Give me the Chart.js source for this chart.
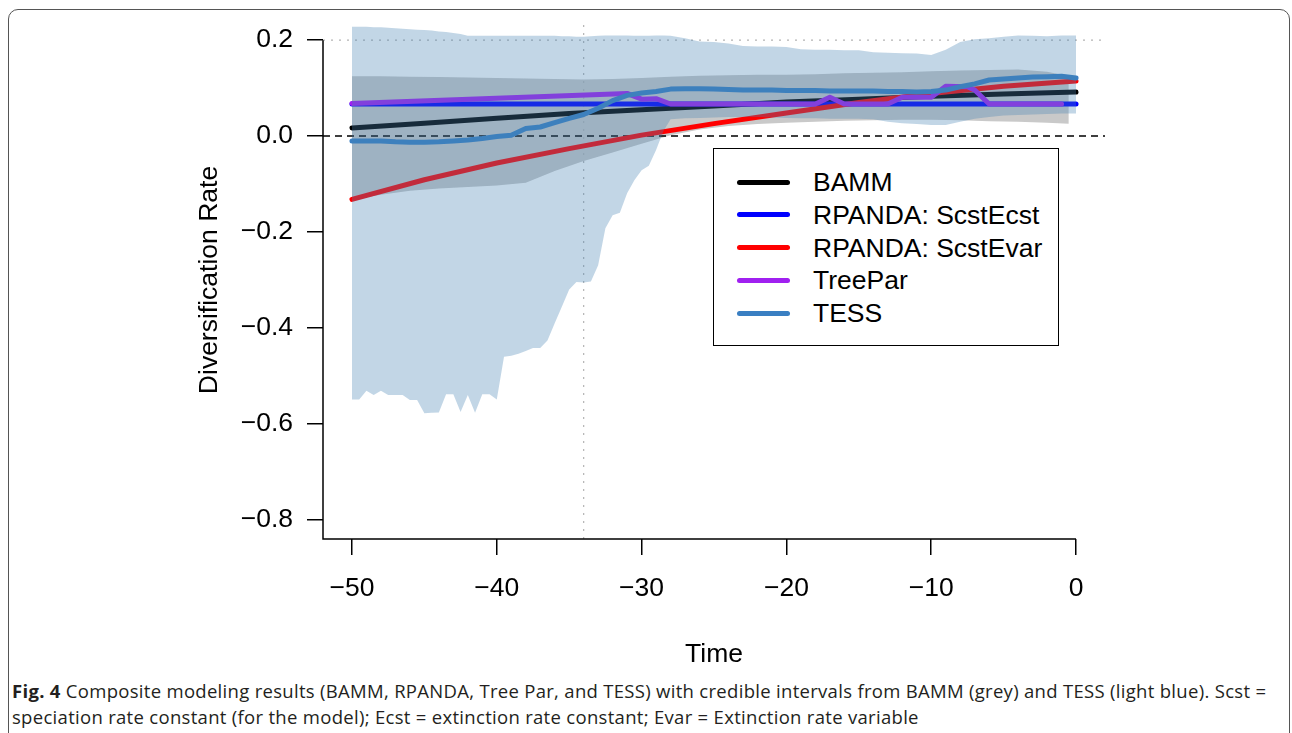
<!DOCTYPE html>
<html>
<head>
<meta charset="utf-8">
<title>Fig. 4 Diversification Rate</title>
<script src="https://cdn.jsdelivr.net/npm/chart.js@4.4.0/dist/chart.umd.min.js"></script>
<style>
  html, body { margin: 0; padding: 0; background: #fff; }
  body { width: 1292px; height: 733px; position: relative; overflow: hidden; }
  #frame {
    position: absolute; left: 8px; top: 9px; width: 1282px; height: 780px;
    border: 1.5px solid #555; border-radius: 10px; box-sizing: border-box;
  }
  #chart { position: absolute; left: 0; top: 0; }
  #legend {
    position: absolute; left: 713px; top: 148px; width: 346px; height: 198px;
    border: 1.5px solid #000; box-sizing: border-box; background: #fff;
  }
  .entry { position: absolute; left: 0; height: 0; }
  .swatch { position: absolute; left: 23px; width: 53px; height: 5px; margin-top: -2.5px; border-radius: 3px; }
  .label {
    position: absolute; left: 99px; top: -16px; white-space: nowrap;
    font: 26.5px "Liberation Sans", Arial, sans-serif; line-height: 32px; color: #000;
  }
  #caption {
    position: absolute; left: 12px; top: 678px; white-space: nowrap;
    font: 18.5px "Open Sans", sans-serif; letter-spacing: 0.3px; line-height: 26px; color: #231f20;
  }
</style>
</head>
<body>
<div id="frame"></div>
<canvas id="chart" width="1292" height="671"></canvas>
<div id="legend"></div>
<div id="caption"><b>Fig. 4</b> Composite modeling results (BAMM, RPANDA, Tree Par, and TESS) with credible intervals from BAMM (grey) and TESS (light blue). Scst =<br>speciation rate constant (for the model); Ecst = extinction rate constant; Evar = Extinction rate variable</div>
<script>
// axis ticks
const xTickVals = [-50, -40, -30, -20, -10, 0];
const xTickLabels = ['\u221250', '\u221240', '\u221230', '\u221220', '\u221210', '0'];
const yTickVals = [-0.8, -0.6, -0.4, -0.2, 0, 0.2];
const yTickLabels = ['\u22120.8', '\u22120.6', '\u22120.4', '\u22120.2', '0.0', '0.2'];

// reference lines
const refZero = 0;
const refTop = 0.2;
const refTime = -34;

// model estimates (time in Myr)
const time5 = [-50, -45, -40, -35, -30, -25, -20, -15, -10, -5, 0];
const bammRate = [0.017, 0.027, 0.037, 0.047, 0.055, 0.063, 0.071, 0.077, 0.083, 0.088, 0.092];
const ecstRate = [0.067, 0.067, 0.067, 0.067, 0.067, 0.067, 0.067, 0.067, 0.067, 0.067, 0.067];
const evarRate = [-0.132, -0.091, -0.056, -0.026, 0.002, 0.026, 0.048, 0.070, 0.089, 0.104, 0.115];

const treeParTime = [-50, -31, -30, -29, -28, -18, -17, -16, -13, -12, -10, -9, -7.5, -7, -6, -1];
const treeParRate = [0.068, 0.089, 0.077, 0.078, 0.067, 0.067, 0.081, 0.067, 0.067, 0.081, 0.081, 0.104, 0.103, 0.096, 0.067, 0.067];

const tessTime = [-50, -49, -48, -47, -46, -45, -44, -43, -42, -41, -40, -39, -38, -37, -36, -35, -34, -33, -32, -31, -30,
  -29, -28, -27, -26, -25, -24, -23, -22, -21, -20, -19, -18, -17, -16, -15, -14, -13, -12, -11, -10,
  -9, -8, -7, -6, -5, -4, -3, -2, -1, 0];
const tessRate = [-0.010, -0.010, -0.010, -0.012, -0.013, -0.013, -0.012, -0.010, -0.008, -0.005, -0.001, 0.002, 0.016, 0.019, 0.028, 0.037, 0.045, 0.058, 0.074, 0.085, 0.090,
  0.093, 0.098, 0.099, 0.099, 0.098, 0.097, 0.096, 0.096, 0.096, 0.095, 0.095, 0.095, 0.094, 0.094, 0.094, 0.094, 0.093, 0.093, 0.092, 0.093,
  0.096, 0.103, 0.109, 0.117, 0.119, 0.121, 0.123, 0.124, 0.125, 0.121];

// credible intervals
const bammBandTime = [-50, -48, -46, -44, -42, -40, -38, -36, -34, -32, -30, -28, -26, -24, -22, -20, -18, -16, -14, -12, -10, -8, -6, -4, -2, -0.5];
const bammUpper = [0.125, 0.125, 0.124, 0.123, 0.122, 0.121, 0.120, 0.119, 0.118, 0.119, 0.121, 0.124, 0.126, 0.127, 0.128, 0.128, 0.129, 0.131, 0.132, 0.133, 0.135, 0.137, 0.138, 0.139, 0.134, 0.125];
const bammLower = [-0.132, -0.122, -0.114, -0.109, -0.106, -0.103, -0.097, -0.073, -0.052, -0.034, -0.016, 0.002, 0.014, 0.021, 0.025, 0.028, 0.030, 0.032, 0.033, 0.034, 0.034, 0.033, 0.031, 0.030, 0.028, 0.026];

const tessBandTime = [-50, -49.5, -49, -48.5, -48, -47.5, -47, -46.5, -46, -45.5, -45, -44.5, -44, -43.5, -43, -42.5, -42, -41.5, -41, -40.5,
  -40, -39.5, -39, -38.5, -38, -37.5, -37, -36.5, -36, -35.5, -35, -34.5, -34, -33.5, -33, -32.5, -32, -31.5, -31, -30.5,
  -30, -29.5, -29, -28.5, -28, -27, -26, -25, -24, -23, -22, -21, -20, -19, -18, -17, -16, -15, -14, -13,
  -12, -11, -10, -9, -8, -7, -6, -5, -4, -3, -2, -1, 0];
const tessUpper = [0.228, 0.228, 0.228, 0.227, 0.227, 0.226, 0.225, 0.224, 0.223, 0.222, 0.221, 0.220, 0.218, 0.217, 0.215, 0.213, 0.209, 0.209, 0.209, 0.209,
  0.209, 0.209, 0.209, 0.209, 0.209, 0.209, 0.209, 0.209, 0.209, 0.208, 0.208, 0.207, 0.207, 0.208, 0.209, 0.210, 0.210, 0.210, 0.210, 0.209,
  0.209, 0.209, 0.210, 0.210, 0.209, 0.204, 0.197, 0.196, 0.193, 0.188, 0.187, 0.187, 0.186, 0.181, 0.180, 0.180, 0.179, 0.179, 0.175, 0.174,
  0.173, 0.172, 0.169, 0.180, 0.196, 0.202, 0.204, 0.207, 0.210, 0.209, 0.208, 0.210, 0.210];
const tessLower = [-0.549, -0.549, -0.531, -0.540, -0.531, -0.540, -0.540, -0.540, -0.550, -0.550, -0.578, -0.577, -0.576, -0.538, -0.538, -0.575, -0.540, -0.577, -0.538, -0.538,
  -0.549, -0.460, -0.458, -0.454, -0.448, -0.442, -0.442, -0.426, -0.390, -0.355, -0.320, -0.304, -0.305, -0.303, -0.269, -0.192, -0.165, -0.160, -0.119, -0.092,
  -0.071, -0.062, -0.029, 0.010, 0.035, 0.037, 0.038, 0.039, 0.040, 0.040, 0.040, 0.039, 0.038, 0.037, 0.037, 0.036, 0.036, 0.036, 0.035, 0.030,
  0.027, 0.025, 0.023, 0.023, 0.030, 0.036, 0.040, 0.043, 0.044, 0.045, 0.046, 0.047, 0.047];

const seriesNames = ['BAMM', 'RPANDA: ScstEcst', 'RPANDA: ScstEvar', 'TreePar', 'TESS'];
const seriesColors = ['#000000', '#0000ff', '#ff0000', '#a020f0', '#3a7fc2'];

const xMin = -52, xMax = 2, yMin = -0.84, yMax = 0.24;

function pts(xs, ys) {
  return xs.map((x, i) => ({ x: x, y: ys[i] }));
}

function seriesLine(i, xs, ys, order) {
  return {
    label: seriesNames[i], data: pts(xs, ys), borderColor: seriesColors[i],
    borderWidth: 5, borderCapStyle: 'round', borderJoinStyle: 'round',
    pointRadius: 0, fill: false, order: order
  };
}

function edge(label, xs, ys, fill, color, order) {
  return {
    label: label, data: pts(xs, ys), borderWidth: 0, borderColor: 'rgba(0,0,0,0)',
    backgroundColor: color, pointRadius: 0, fill: fill, order: order
  };
}

function refLine(label, data, color, width, dash) {
  return {
    label: label, data: data, borderColor: color, borderWidth: width, borderDash: dash,
    pointRadius: 0, fill: false, order: 7
  };
}

// L-shaped axis lines as R draws them
const axisLines = {
  id: 'axisLines',
  afterDraw(chart) {
    const { ctx, chartArea, scales: { x, y } } = chart;
    ctx.save();
    ctx.strokeStyle = '#000';
    ctx.lineWidth = 1.5;
    ctx.beginPath();
    ctx.moveTo(chartArea.left, y.getPixelForValue(yTickVals[yTickVals.length - 1]));
    ctx.lineTo(chartArea.left, chartArea.bottom);
    ctx.lineTo(x.getPixelForValue(xTickVals[xTickVals.length - 1]), chartArea.bottom);
    ctx.stroke();
    ctx.restore();
  }
};

function noEdgePadding(axis) {
  axis.paddingTop = 0; axis.paddingBottom = 0;
  axis.paddingLeft = 0; axis.paddingRight = 0;
}

Chart.defaults.font.family = '"Liberation Sans", Arial, sans-serif';
Chart.defaults.color = '#000';

const chart = new Chart(document.getElementById('chart').getContext('2d'), {
  type: 'line',
  data: {
    datasets: [
      edge('TESS upper', tessBandTime, tessUpper, false, 'rgba(0,0,0,0)', 1),
      edge('TESS lower', tessBandTime, tessLower, '-1', 'rgba(70,130,180,0.33)', 1),
      seriesLine(4, tessTime, tessRate, 2),
      seriesLine(3, treeParTime, treeParRate, 3),
      seriesLine(2, time5, evarRate, 4),
      seriesLine(1, time5, ecstRate, 5),
      seriesLine(0, time5, bammRate, 6),
      refLine('zero', [{ x: xMin, y: refZero }, { x: xMax, y: refZero }], '#000', 1.5, [7, 5]),
      refLine('top', [{ x: xMin, y: refTop }, { x: xMax, y: refTop }], '#b4b4b4', 1.2, [2, 6]),
      refLine('time', [{ x: refTime, y: yMin }, { x: refTime, y: yMax }], '#b4b4b4', 1.2, [2, 6]),
      edge('BAMM upper', bammBandTime, bammUpper, false, 'rgba(0,0,0,0)', 8),
      edge('BAMM lower', bammBandTime, bammLower, '-1', '#c9c9c9', 8)
    ]
  },
  options: {
    responsive: false,
    animation: false,
    devicePixelRatio: 1,
    layout: { padding: { left: 0, right: 187, top: 21, bottom: 0 } },
    plugins: { legend: { display: false }, tooltip: { enabled: false } },
    scales: {
      x: {
        type: 'linear', min: xMin, max: xMax,
        afterBuildTicks: (axis) => { axis.ticks = xTickVals.map(v => ({ value: v })); },
        afterFit: (axis) => { axis.height = 132; noEdgePadding(axis); },
        ticks: {
          autoSkip: false, maxRotation: 0, padding: 18,
          font: { size: 26.5 },
          callback: (value, index) => xTickLabels[index]
        },
        grid: { drawOnChartArea: false, drawTicks: true, tickLength: 16, color: '#000', lineWidth: 1.5 },
        border: { display: false },
        title: { display: true, text: 'Time', font: { size: 26.5 }, padding: { top: 0, bottom: 0 } }
      },
      y: {
        type: 'linear', min: yMin, max: yMax,
        afterBuildTicks: (axis) => { axis.ticks = yTickVals.map(v => ({ value: v })); },
        afterFit: (axis) => { axis.width = 323; noEdgePadding(axis); },
        ticks: {
          autoSkip: false, padding: 14,
          font: { size: 26.5 },
          callback: (value, index) => yTickLabels[index]
        },
        grid: { drawOnChartArea: false, drawTicks: true, tickLength: 16, color: '#000', lineWidth: 1.5 },
        border: { display: false },
        title: { display: true, text: 'Diversification Rate', font: { size: 26.5 }, padding: { top: 194, bottom: 0 } }
      }
    }
  },
  plugins: [axisLines]
});

// legend box, R style
const legend = document.getElementById('legend');
seriesNames.forEach((name, i) => {
  const row = document.createElement('div');
  row.className = 'entry';
  row.style.top = (33 + i * 32.8) + 'px';
  row.innerHTML = '<div class="swatch" style="background:' + seriesColors[i] + '"></div>' +
    '<div class="label">' + name + '</div>';
  legend.appendChild(row);
});
</script>
</body>
</html>
